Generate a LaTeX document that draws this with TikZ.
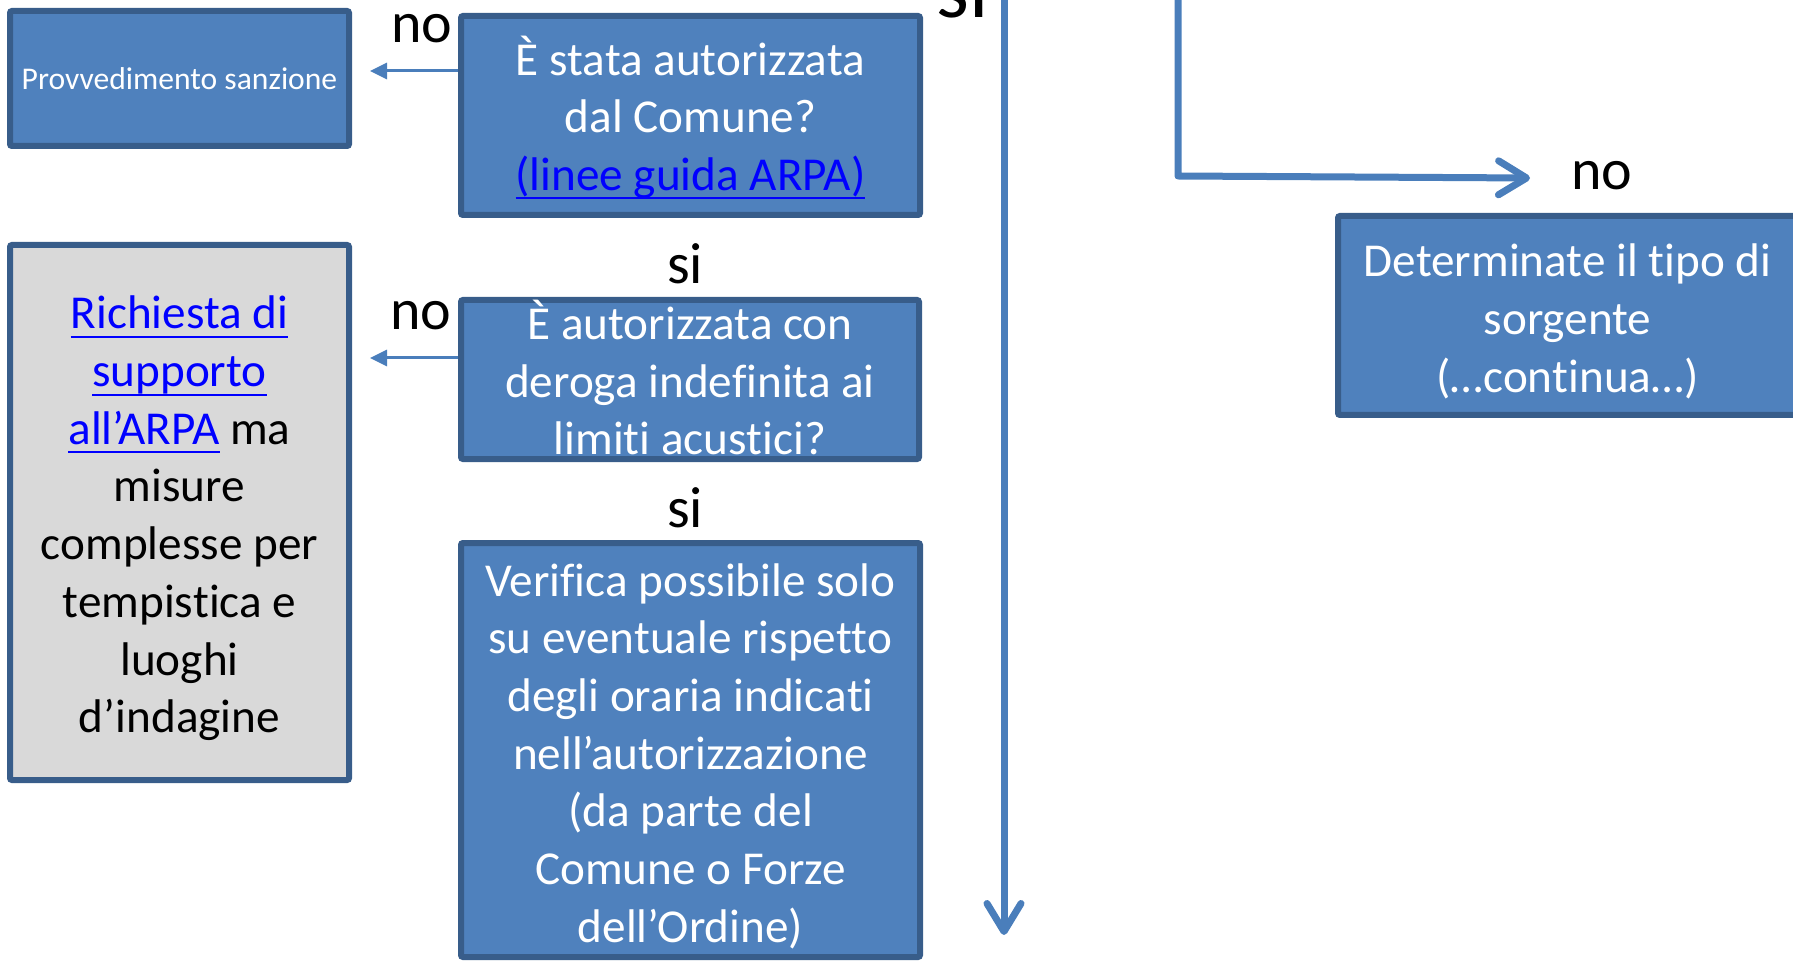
\documentclass[tikz,border=0pt]{standalone}
\usepackage{fontspec}
\setmainfont{Carlito}[Ligatures={TeX,NoCommon,NoContextual}]
\usetikzlibrary{arrows.meta}
\definecolor{boxfill}{HTML}{4F81BD}
\definecolor{boxline}{HTML}{385D8A}
\definecolor{grayfill}{HTML}{D9D9D9}
\definecolor{arrowcol}{HTML}{4A7EBB}
\definecolor{linkblue}{HTML}{0000FF}
\newcommand\brk{\kern0pt\relax}
\newsavebox\lnkbox
\newcommand\lnk[1]{\sbox\lnkbox{\color{linkblue}#1}{\color{linkblue}\rlap{\rule[-4.5pt]{\wd\lnkbox}{1pt}}}\usebox\lnkbox}
\tikzset{
  flowbox/.style={draw=boxline, line width=3pt, fill=boxfill,
    rounded corners=1pt, inner sep=0pt},
  graybox/.style={flowbox, fill=grayfill},
  boxtext/.style={inner sep=0pt, align=center, text=white,
    font=\fontsize{23.6}{28.85}\selectfont},
  graytext/.style={boxtext, text=black},
  lbl/.style={font=\fontsize{29}{34}\selectfont, inner sep=0pt, anchor=base, text=black},
  thinarr/.style={draw=arrowcol, line width=1.5pt, -{Triangle[length=8.5pt,width=8pt]}},
  thickarr/.style={draw=arrowcol, line width=3.5pt, line join=round,
    -{Straight Barb[length=14pt,width=17pt,line cap=round,line join=round]}}
}
\begin{document}
\begin{tikzpicture}[x=0.5pt,y=-0.5pt]
\useasboundingbox (0,0) rectangle (1793,962);
% boxes
\node[flowbox, minimum width=169.5pt, minimum height=67.5pt, align=center, text=white,
      font=\fontsize{15.8}{19}\selectfont] (A) at (179.5,78.5) {Provvedimento sanzione};
\node[flowbox, minimum width=229.5pt, minimum height=99.5pt] (B) at (690.5,115.5) {};
\node[graybox, minimum width=169.5pt, minimum height=267.5pt] (C) at (179.5,512.5) {};
\node[flowbox, minimum width=229pt, minimum height=79.5pt] (D) at (690,379.5) {};
\node[flowbox, minimum width=229.5pt, minimum height=207pt] (E) at (690.5,750) {};
\node[flowbox, minimum width=229.5pt, minimum height=99.5pt] (F) at (1567.5,315.5) {};
% box texts
\node[boxtext] (Bt) at ([yshift=-1pt]B.center)
  {È stata autorizzata\\dal Comune?\\\lnk{(linee guida ARPA)}};
\node[graytext] (Ct) at ([yshift=-3pt]C.center)
  {\lnk{Richiesta di}\\\lnk{supporto}\\\lnk{all’ARPA} ma\\misure\\complesse per\\tempis\brk t\brk ica e\\luoghi\\d’indagine};
\node[boxtext] (Dt) at ([yshift=1pt]D.center)
  {È autorizzata con\\deroga indef\brk ini\brk ta ai\\limi\brk ti acus\brk t\brk ici?};
\node[boxtext] (Et) at ([yshift=-3pt]E.center)
  {Verif\brk ica possibile solo\\su eventuale rispet\brk t\brk o\\degli oraria indica\brk t\brk i\\nell’autorizzazione\\(da parte del\\Comune o Forze\\dell’Ordine)};
\node[boxtext] (Ft) at ([yshift=-3pt]F.center)
  {Determinate il t\brk ipo di\\sorgente\\(…con\brk t\brk inua…)};
% labels
\node[lbl] (no1) at (422,43) {no};
\node[lbl] (no2) at (421,330) {no};
\node[lbl] (si1) at (685,284) {si};
\node[lbl] (si2) at (685,527) {si};
\node[lbl, font=\fontsize{42}{48}\selectfont] (si0) at (963,18) {si};
\node[lbl] (no3) at (1602,190) {no};
% connector end points
\coordinate (t1) at (370,71);
\coordinate (t2) at (370,358);
\coordinate (v0) at (1004,-10);
\coordinate (v1) at (1004,935);
\coordinate (l0) at (1178,-10);
\coordinate (l1) at (1178,176);
\coordinate (l2) at (1530,178);
% connectors
\draw[thinarr] (B.west |- t1) -- (t1);
\draw[thinarr] (D.west |- t2) -- (t2);
\draw[thickarr] (v0) -- (v1);
\draw[thickarr] (l0) -- (l1) -- (l2);
\end{tikzpicture}
\end{document}
